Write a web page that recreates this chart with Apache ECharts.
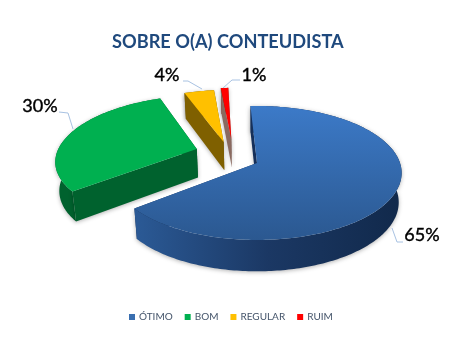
<!DOCTYPE html>
<html>
<head>
<meta charset="utf-8">
<script src="https://cdn.jsdelivr.net/npm/echarts@6/dist/echarts.min.js"></script>
<style>
  html, body { margin: 0; background: #fff; }
  #chart { width: 465px; height: 357px; }
</style>
</head>
<body>
<div id="chart"></div>
<script>
const categories = ['ÓTIMO', 'BOM', 'REGULAR', 'RUIM'];
const values = [65, 30, 4, 1];

// pie projection (fake 3d: disk coords u,v go through a perspective)
const CX = 257, CY = 163, RX = 143, RY = 65.5, PERSP = 0.149;
const DEPTH = 29, BOTTOM_SHRINK = 0.98, START_ANGLE = -3;

// per slice look, same order as categories
const slices = [
  {
    offset: [0, 0], z: 4,
    top: { type: 'linear', x: 0, y: 0, x2: 0, y2: 1, colorStops: [{ offset: 0, color: '#3c7ac8' }, { offset: 1, color: '#2b5890' }] },
    wall: { type: 'linear', x: 0, y: 0, x2: 1, y2: 0, colorStops: [{ offset: 0, color: '#2b5a96' }, { offset: 0.5, color: '#1b3864' }, { offset: 1, color: '#11294b' }] },
    face: '#16305a',
    label: [422, 235], leader: [[403, 242], [397, 242], [392, 228]]
  },
  {
    offset: [-0.435, -0.22], z: 3,
    top: '#00b050', wall: '#00622e', face: '#00622e',
    label: [40, 106], leader: [[59, 112], [68, 113], [73, 129]]
  },
  {
    offset: [-0.245, -0.338], z: 2,
    top: '#ffc000', wall: '#7f6000', face: '#7f6000',
    label: [167, 75], leader: [[183, 81], [188, 81], [202, 89]]
  },
  {
    offset: [-0.19, -0.385], z: 1,
    top: '#ff0000', wall: '#8a1a10', face: '#8a6a60',
    label: [254, 75], leader: [[240, 80], [232, 80], [223, 88]]
  }
];

const total = values.reduce((a, b) => a + b, 0);

function project(u, v, bottom) {
  const w = 1 - PERSP * v;
  const shrink = bottom ? BOTTOM_SHRINK : 1;
  const depth = bottom ? DEPTH * (1 + 0.08 * v) : 0;
  return [CX + (RX * shrink * u) / w, CY + (RY * v) / w + depth];
}

function rimPoint(slice, deg, bottom) {
  const a = (deg * Math.PI) / 180;
  return project(slice.offset[0] + Math.sin(a), slice.offset[1] - Math.cos(a), bottom);
}

function makeItem(index) {
  const slice = slices[index];
  let before = 0;
  for (let i = 0; i < index; i++) before += values[i];
  const a0 = START_ANGLE + (before / total) * 360;
  const a1 = a0 + (values[index] / total) * 360;

  const topArc = [];
  const bottomArc = [];
  const steps = Math.max(4, Math.round(a1 - a0));
  for (let i = 0; i <= steps; i++) {
    const deg = a0 + ((a1 - a0) * i) / steps;
    topArc.push(rimPoint(slice, deg, false));
    bottomArc.push(rimPoint(slice, deg, true));
  }
  const apexTop = project(slice.offset[0], slice.offset[1], false);
  const apexBottom = project(slice.offset[0], slice.offset[1], true);
  const last = topArc.length - 1;

  const shadow = { shadowBlur: 4, shadowColor: 'rgba(0,0,0,0.3)', shadowOffsetY: 1 };
  const poly = (points, fill, extra) => ({
    type: 'polygon',
    shape: { points },
    style: Object.assign({ fill, stroke: null }, extra)
  });

  return {
    type: 'group',
    children: [
      poly([apexTop, topArc[last], bottomArc[last], apexBottom], slice.face),
      poly(topArc.concat(bottomArc.slice().reverse()), slice.wall, shadow),
      poly([apexTop, topArc[0], bottomArc[0], apexBottom], slice.face, shadow),
      poly([apexTop].concat(topArc), slice.top),
      {
        type: 'polyline',
        shape: { points: slice.leader },
        style: { stroke: '#a8c2e2', lineWidth: 1, fill: null }
      },
      {
        type: 'text',
        x: slice.label[0],
        y: slice.label[1],
        style: {
          text: values[index] + '%',
          fill: '#000',
          stroke: '#000',
          lineWidth: 0.4,
          font: '18px Lato',
          align: 'center',
          verticalAlign: 'middle'
        }
      }
    ]
  };
}

const legendColors = ['#3a6fb0', '#00b050', '#ffc000', '#ff0000'];

const myChart = echarts.init(document.getElementById('chart'));
const option = {
  animation: false,
  backgroundColor: '#fff',
  title: {
    text: 'SOBRE O(A) CONTEUDISTA',
    left: 107,
    top: 28,
    textStyle: { color: '#1f497d', fontFamily: 'Lato', fontWeight: 'bold', fontSize: 18.2 }
  },
  legend: {
    data: categories,
    left: 124,
    top: 307,
    icon: 'rect',
    itemWidth: 6,
    itemHeight: 6,
    itemGap: 12,
    selectedMode: false,
    textStyle: { color: '#44546a', fontFamily: 'Lato', fontSize: 10, padding: [0, 0, 0, -1] }
  },
  series: categories.map((name, index) => ({
    type: 'custom',
    name,
    coordinateSystem: 'none',
    silent: true,
    z: slices[index].z,
    color: legendColors[index],
    itemStyle: { color: legendColors[index] },
    data: [values[index]],
    renderItem: () => makeItem(index)
  }))
};
myChart.setOption(option);
</script>
</body>
</html>
